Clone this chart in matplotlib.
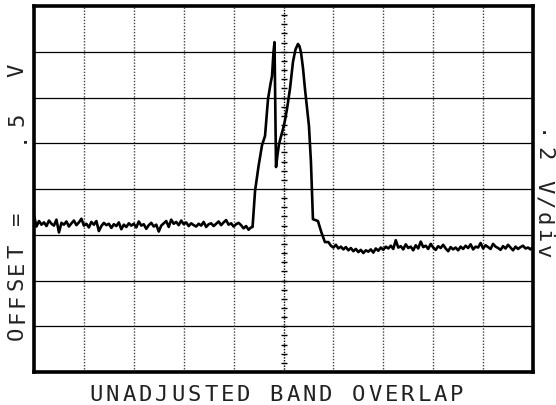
import numpy as np
import matplotlib.pyplot as plt

# screen: 10 x 8 divisions
n_xdiv = 10
n_ydiv = 8

# trace before the pulse (volts in divisions)
left_trace = [
    3.42, 3.18, 3.30, 3.22, 3.27, 3.19, 3.31, 3.24, 3.20, 3.33,
    3.05, 3.26, 3.22, 3.29, 3.18, 3.25, 3.31, 3.21, 3.27, 3.35,
    3.20, 3.24, 3.16, 3.28, 3.22, 3.30, 3.08, 3.19, 3.26, 3.21,
    3.24, 3.15, 3.23, 3.19, 3.27, 3.12, 3.22, 3.17, 3.25, 3.20,
    3.24, 3.16, 3.29, 3.20, 3.23, 3.13, 3.21, 3.26, 3.18, 3.22,
    3.07, 3.20, 3.25, 3.30, 3.17, 3.33, 3.24, 3.28, 3.21, 3.31,
    3.23, 3.27, 3.19, 3.25, 3.21, 3.18, 3.24, 3.20, 3.28, 3.17,
    3.23, 3.25, 3.19, 3.24, 3.29, 3.21, 3.27, 3.32, 3.22, 3.25,
    3.18, 3.23, 3.26, 3.21, 3.14, 3.19, 3.11, 3.16]
left_span = (0.0, 4.35)

# the double-humped pulse
pulse_x = [4.38, 4.43, 4.50, 4.57, 4.63, 4.69, 4.74, 4.77, 4.80, 4.82,
           4.85, 4.88, 4.91, 4.95, 4.99, 5.03, 5.07, 5.13, 5.19, 5.24,
           5.29, 5.32, 5.35, 5.39, 5.43, 5.51, 5.55, 5.59, 5.64, 5.69,
           5.76, 5.83]
pulse_y = [3.17, 3.96, 4.50, 4.96, 5.16, 5.97, 6.30, 6.47, 7.00, 7.21,
           4.48, 4.75, 4.98, 5.15, 5.31, 5.50, 5.75, 6.19, 6.78, 7.05,
           7.17, 7.12, 6.99, 6.65, 6.19, 5.38, 4.59, 3.34, 3.32, 3.30,
           3.05, 2.84]

# trace after the pulse
right_trace = [
    2.84, 2.76, 2.72, 2.78, 2.70, 2.74, 2.68, 2.73, 2.66, 2.71,
    2.64, 2.69, 2.62, 2.67, 2.60, 2.66, 2.63, 2.68, 2.61, 2.70,
    2.65, 2.72, 2.67, 2.74, 2.70, 2.76, 2.69, 2.88, 2.72, 2.75,
    2.68, 2.79, 2.71, 2.74, 2.66, 2.77, 2.70, 2.85, 2.73, 2.76,
    2.69, 2.80, 2.72, 2.67, 2.75, 2.71, 2.78, 2.70, 2.64, 2.73,
    2.68, 2.72, 2.66, 2.74, 2.69, 2.76, 2.71, 2.79, 2.68, 2.74,
    2.72, 2.82, 2.70, 2.77, 2.73, 2.69, 2.80, 2.74, 2.71, 2.67,
    2.75, 2.70, 2.78, 2.72, 2.66, 2.74, 2.69, 2.73, 2.76, 2.70,
    2.72, 2.68, 2.74]
right_span = (5.90, 10.0)

bottom_label = "UNADJUSTED BAND OVERLAP"
left_label = "OFFSET =    .5  V"
right_label = ".2 V/div"

W, H = 556, 406
FONT = "DejaVu Sans Mono"


def spaced_text(fig, s, x0, y0, dx, dy, rotation=0, size=16):
    """Plotter-style lettering: one glyph per fixed cell (pixel coords)."""
    for i, ch in enumerate(s):
        if ch == " ":
            continue
        fig.text((x0 + i * dx) / W, 1 - (y0 + i * dy) / H, ch,
                 family=FONT, fontsize=size, color="#222222",
                 ha="center", va="baseline", rotation=rotation,
                 rotation_mode="anchor")


fig = plt.figure(figsize=(W / 100, H / 100), dpi=100)
ax = fig.add_axes([34 / W, (H - 373) / H, 499 / W, 366 / H])
ax.set_xlim(0, n_xdiv)
ax.set_ylim(0, n_ydiv)
ax.set_xticks([])
ax.set_yticks([])
for sp in ax.spines.values():
    sp.set_linewidth(2.6)
    sp.set_color("black")

# graticule: solid horizontals, dotted verticals
for y in range(1, n_ydiv):
    ax.axhline(y, color="black", lw=0.9, zorder=1)
for x in range(1, n_xdiv):
    if x == n_xdiv // 2:
        continue
    ax.axvline(x, color="#444444", lw=1.0, ls=(0, (1, 1.2)), zorder=1)

# centre axis with minor division marks
cx = n_xdiv / 2
ax.axvline(cx, color="black", lw=1.0, ls=(0, (1, 1)), zorder=1)
minor = np.arange(0.2, n_ydiv, 0.2)
ax.plot(np.full_like(minor, cx), minor, ls="none", marker="_",
        ms=5, mew=1.0, color="black", zorder=1)

# the trace
xl = np.linspace(*left_span, len(left_trace))
xr = np.linspace(*right_span, len(right_trace))
tx = np.concatenate([xl, pulse_x, xr])
ty = np.concatenate([left_trace, pulse_y, right_trace])
ax.plot(tx, ty, color="black", lw=1.9, solid_joinstyle="round", zorder=3)

spaced_text(fig, bottom_label, 96, 401, 16.4, 0)
spaced_text(fig, left_label, 23, 333, 0, -16.4, rotation=90)
spaced_text(fig, right_label, 537, 137, 0, 16.4, rotation=-90)

fig.savefig("out.png", dpi=100, facecolor="white")
